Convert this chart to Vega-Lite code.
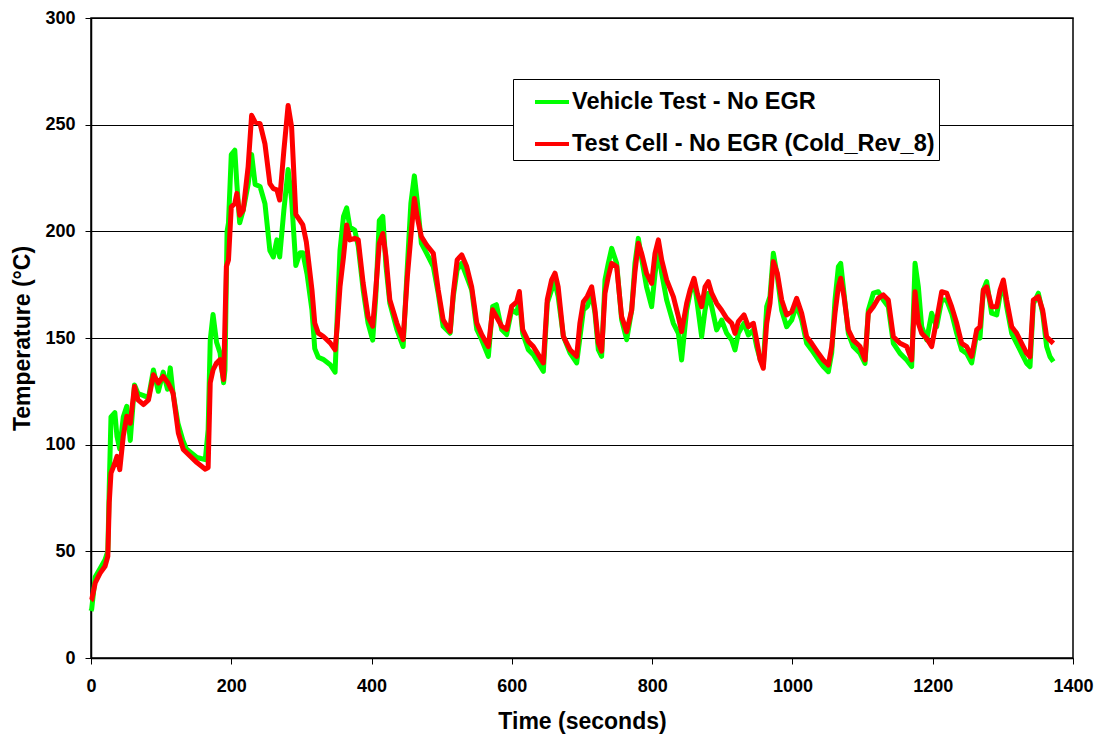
{
  "$schema": "https://vega.github.io/schema/vega-lite/v6.json",
  "width": 982,
  "height": 640,
  "autosize": {"type": "none"},
  "padding": {"left": 91, "top": 18, "right": 26, "bottom": 80},
  "background": "white",
  "config": {
    "font": "Liberation Sans",
    "view": {"stroke": "black", "strokeWidth": 1.5},
    "axis": {
      "labelFont": "Liberation Sans",
      "labelFontWeight": "bold",
      "labelFontSize": 18,
      "labelColor": "black",
      "titleFont": "Liberation Sans",
      "titleFontWeight": "bold",
      "titleFontSize": 23,
      "titleColor": "black",
      "domainColor": "black",
      "domainWidth": 1.5,
      "tickColor": "black",
      "tickSize": 6,
      "gridColor": "black",
      "gridOpacity": 1,
      "gridWidth": 1,
      "labelFlush": false,
      "labelOverlap": false
    },
    "legend": {
      "orient": "none",
      "legendX": 422,
      "legendY": 61,
      "strokeColor": "black",
      "fillColor": "white",
      "padding": 4,
      "labelFont": "Liberation Sans",
      "labelFontWeight": "bold",
      "labelFontSize": 23.5,
      "labelColor": "black",
      "symbolType": "stroke",
      "symbolStrokeWidth": 4,
      "symbolSize": 1156,
      "symbolOffset": 16,
      "rowPadding": 11,
      "labelOffset": 1,
      "labelLimit": 600
    }
  },
  "datasets": {
    "vehicle": [
      {"time":0,"temp":22},{"time":1,"temp":23},{"time":6,"temp":38},{"time":13,"temp":42},{"time":20,"temp":46},{"time":24,"temp":50},{"time":26,"temp":80},{"time":28.5,"temp":113},{"time":34,"temp":115},{"time":37,"temp":104},{"time":41,"temp":98},{"time":46,"temp":113},{"time":51,"temp":118},{"time":56,"temp":102},{"time":62,"temp":128},{"time":67,"temp":124},{"time":75,"temp":123},{"time":82,"temp":122},{"time":89,"temp":135},{"time":96,"temp":125},{"time":103,"temp":134},{"time":109,"temp":126},{"time":113,"temp":136},{"time":117,"temp":124},{"time":124,"temp":110},{"time":131,"temp":102},{"time":136,"temp":98},{"time":151,"temp":94},{"time":163,"temp":93},{"time":167,"temp":107},{"time":170,"temp":149},{"time":174,"temp":161},{"time":179,"temp":148},{"time":184,"temp":143},{"time":189,"temp":129},{"time":191,"temp":135},{"time":194,"temp":200},{"time":196,"temp":204},{"time":200,"temp":236},{"time":205,"temp":238},{"time":208,"temp":222},{"time":212,"temp":204},{"time":217,"temp":210},{"time":224,"temp":222},{"time":229,"temp":236},{"time":234,"temp":222},{"time":241,"temp":221},{"time":248,"temp":213},{"time":255,"temp":191},{"time":260,"temp":188},{"time":265,"temp":196},{"time":269,"temp":188},{"time":275,"temp":210},{"time":281,"temp":229},{"time":286,"temp":215},{"time":292,"temp":184},{"time":298,"temp":190},{"time":302,"temp":190},{"time":308,"temp":180},{"time":315,"temp":163},{"time":319,"temp":145},{"time":324,"temp":141},{"time":331,"temp":140},{"time":341,"temp":137.5},{"time":348,"temp":134},{"time":351,"temp":160},{"time":355,"temp":191},{"time":360,"temp":207},{"time":364.5,"temp":211},{"time":369,"temp":202},{"time":376,"temp":200.6},{"time":381,"temp":193},{"time":388,"temp":172.6},{"time":395,"temp":157},{"time":401.6,"temp":149},{"time":406,"temp":169.5},{"time":411,"temp":205},{"time":416,"temp":207},{"time":420.6,"temp":183.5},{"time":426,"temp":166.4},{"time":436,"temp":154},{"time":445,"temp":146},{"time":451,"temp":183.5},{"time":456,"temp":213},{"time":461,"temp":226},{"time":465,"temp":214.6},{"time":471,"temp":194.4},{"time":478.5,"temp":189.7},{"time":488,"temp":183.5},{"time":495,"temp":171},{"time":502,"temp":155.5},{"time":512,"temp":152.3},{"time":516.5,"temp":169.5},{"time":522,"temp":182},{"time":528.5,"temp":185},{"time":535.6,"temp":178.8},{"time":542.7,"temp":172.6},{"time":550,"temp":154},{"time":557,"temp":149.2},{"time":566.5,"temp":141.4},{"time":572.6,"temp":164.8},{"time":578,"temp":165.6},{"time":585.5,"temp":154},{"time":592.6,"temp":151.6},{"time":599.7,"temp":163.2},{"time":607,"temp":161.7},{"time":610.7,"temp":168},{"time":615.4,"temp":152.3},{"time":623.5,"temp":144.5},{"time":630.6,"temp":142.2},{"time":637.7,"temp":138.3},{"time":644.9,"temp":134.4},{"time":650.5,"temp":166.4},{"time":656.7,"temp":172.6},{"time":661.5,"temp":175.7},{"time":666,"temp":169.5},{"time":673.4,"temp":150.8},{"time":682.9,"temp":143},{"time":692.4,"temp":138.3},{"time":697,"temp":150},{"time":702,"temp":163.2},{"time":707.6,"temp":164.8},{"time":713.8,"temp":171},{"time":718.5,"temp":161.7},{"time":723.3,"temp":144.5},{"time":728,"temp":141.4},{"time":732.8,"temp":177.3},{"time":737.5,"temp":185},{"time":742.3,"temp":192},{"time":749.4,"temp":185},{"time":756.5,"temp":158.6},{"time":763.7,"temp":149.2},{"time":770.8,"temp":163},{"time":775.5,"temp":185},{"time":780.3,"temp":196.7},{"time":785,"temp":187.3},{"time":792,"temp":174},{"time":799.3,"temp":164.7},{"time":804.1,"temp":180},{"time":808.9,"temp":191.3},{"time":813.6,"temp":180.3},{"time":820.7,"temp":167.8},{"time":830.2,"temp":156.9},{"time":837.4,"temp":152.2},{"time":842,"temp":139.7},{"time":849.2,"temp":163},{"time":854,"temp":171},{"time":859.7,"temp":177.2},{"time":864.4,"temp":166},{"time":870.6,"temp":150.6},{"time":875.4,"temp":163},{"time":880.1,"temp":171},{"time":884.9,"temp":164.7},{"time":892,"temp":153.8},{"time":899.1,"temp":158.4},{"time":906.3,"temp":152.2},{"time":913.4,"temp":149.1},{"time":918.1,"temp":144.4},{"time":922.9,"temp":152.2},{"time":931,"temp":156.9},{"time":937.2,"temp":151.4},{"time":944.3,"temp":153.8},{"time":949,"temp":146},{"time":954,"temp":140},{"time":958.5,"temp":137},{"time":963.3,"temp":164.7},{"time":968,"temp":169.4},{"time":972.8,"temp":189.7},{"time":978.5,"temp":178.8},{"time":984.7,"temp":163},{"time":991.8,"temp":155.3},{"time":999,"temp":158.4},{"time":1006,"temp":165.5},{"time":1013.2,"temp":158.4},{"time":1020.3,"temp":147.5},{"time":1027.4,"temp":144.4},{"time":1037,"temp":139.7},{"time":1044,"temp":136.6},{"time":1051.2,"temp":134.2},{"time":1056,"temp":143},{"time":1060.7,"temp":167.8},{"time":1065.5,"temp":183.4},{"time":1068.8,"temp":185},{"time":1073.5,"temp":171},{"time":1079.7,"temp":152.2},{"time":1086.8,"temp":146},{"time":1096.4,"temp":142.8},{"time":1103.5,"temp":138.1},{"time":1108.2,"temp":163},{"time":1115.4,"temp":171},{"time":1122.5,"temp":171.7},{"time":1129.6,"temp":167.8},{"time":1136.7,"temp":164.7},{"time":1143.9,"temp":147.5},{"time":1153.4,"temp":142.8},{"time":1162.9,"temp":139.7},{"time":1170,"temp":136.6},{"time":1174.8,"temp":185},{"time":1179.5,"temp":174},{"time":1184.3,"temp":155.3},{"time":1191.4,"temp":149.1},{"time":1198.5,"temp":161.6},{"time":1205.6,"temp":155.3},{"time":1212.8,"temp":167.8},{"time":1219.9,"temp":167.8},{"time":1227,"temp":161.6},{"time":1234.2,"temp":152.2},{"time":1241.3,"temp":144.4},{"time":1248.4,"temp":142.8},{"time":1255.5,"temp":138.3},{"time":1262.7,"temp":152.2},{"time":1267.4,"temp":150},{"time":1272.2,"temp":172.5},{"time":1276.9,"temp":176.4},{"time":1284,"temp":161.6},{"time":1291.2,"temp":160.8},{"time":1296,"temp":170},{"time":1300.7,"temp":175.6},{"time":1305.4,"temp":164.7},{"time":1312.6,"temp":152.2},{"time":1319.7,"temp":147.5},{"time":1326.8,"temp":142.8},{"time":1334,"temp":138.1},{"time":1338.7,"temp":136.6},{"time":1343.4,"temp":166},{"time":1350.6,"temp":171},{"time":1356.8,"temp":161.6},{"time":1362.4,"temp":146},{"time":1367.2,"temp":141.2},{"time":1372,"temp":138.9}
    ],
    "cell": [
      {"time":0,"temp":27},{"time":1,"temp":27.3},{"time":6,"temp":35.2},{"time":13,"temp":39.8},{"time":20,"temp":43},{"time":24,"temp":47.7},{"time":26,"temp":72.7},{"time":28.5,"temp":86.7},{"time":34,"temp":91.4},{"time":37,"temp":94.5},{"time":41,"temp":88.3},{"time":46,"temp":104},{"time":51,"temp":113.3},{"time":56,"temp":110},{"time":62,"temp":127.3},{"time":67,"temp":121},{"time":75,"temp":118.8},{"time":82,"temp":121},{"time":89,"temp":132.8},{"time":96,"temp":128.9},{"time":103,"temp":132},{"time":110,"temp":128.9},{"time":117,"temp":124.2},{"time":124.5,"temp":105.5},{"time":131.6,"temp":97.7},{"time":136,"temp":96.3},{"time":151,"temp":91.6},{"time":163,"temp":88.5},{"time":167,"temp":89.3},{"time":170,"temp":129},{"time":174,"temp":135},{"time":179,"temp":138.3},{"time":184,"temp":139.9},{"time":189,"temp":130.5},{"time":193,"temp":183.5},{"time":196,"temp":186.6},{"time":200,"temp":211.5},{"time":205,"temp":213},{"time":208,"temp":217.8},{"time":212,"temp":207.6},{"time":217,"temp":210},{"time":224,"temp":230.2},{"time":229,"temp":254.4},{"time":234,"temp":251.2},{"time":241,"temp":250.5},{"time":248,"temp":241},{"time":255,"temp":222.4},{"time":260,"temp":220},{"time":265,"temp":219.4},{"time":269,"temp":214.7},{"time":275,"temp":238},{"time":281,"temp":259},{"time":286,"temp":249},{"time":292,"temp":208},{"time":298,"temp":205},{"time":302,"temp":203},{"time":307,"temp":195},{"time":315,"temp":172.6},{"time":319,"temp":157},{"time":324,"temp":152.3},{"time":331,"temp":150.8},{"time":341,"temp":147.7},{"time":348,"temp":144.5},{"time":351,"temp":155.5},{"time":355,"temp":174},{"time":360,"temp":188},{"time":364.5,"temp":203},{"time":369,"temp":196},{"time":376,"temp":196.7},{"time":381,"temp":196},{"time":388,"temp":175.7},{"time":395,"temp":160},{"time":401.6,"temp":155.5},{"time":406,"temp":172.6},{"time":411,"temp":194.4},{"time":416,"temp":199},{"time":420.6,"temp":188},{"time":426,"temp":168},{"time":436,"temp":157},{"time":445,"temp":149.2},{"time":451,"temp":178.8},{"time":456,"temp":197.5},{"time":461,"temp":215.4},{"time":465,"temp":206.9},{"time":471,"temp":197.5},{"time":478.5,"temp":193.6},{"time":488,"temp":189.7},{"time":495,"temp":172.6},{"time":502,"temp":158.6},{"time":512,"temp":153},{"time":516.5,"temp":171},{"time":522,"temp":186.6},{"time":528.5,"temp":189},{"time":535.6,"temp":183.5},{"time":542.7,"temp":174},{"time":550,"temp":157},{"time":557,"temp":151.6},{"time":566.5,"temp":146},{"time":572.6,"temp":163.2},{"time":578,"temp":160},{"time":585.5,"temp":155.5},{"time":592.6,"temp":154},{"time":599.7,"temp":164.8},{"time":607,"temp":167},{"time":610.7,"temp":171.8},{"time":615.4,"temp":154},{"time":623.5,"temp":148.4},{"time":630.6,"temp":146},{"time":637.7,"temp":142.2},{"time":644.9,"temp":138.3},{"time":650.5,"temp":168},{"time":656.7,"temp":177.3},{"time":661.5,"temp":180.4},{"time":666,"temp":174},{"time":673.4,"temp":150.8},{"time":682.9,"temp":144.5},{"time":692.4,"temp":141.4},{"time":697,"temp":157},{"time":702,"temp":167},{"time":707.6,"temp":169.5},{"time":713.8,"temp":174},{"time":718.5,"temp":163.2},{"time":723.3,"temp":147.7},{"time":728,"temp":143.8},{"time":732.8,"temp":171},{"time":737.5,"temp":178.8},{"time":742.3,"temp":185},{"time":749.4,"temp":183.5},{"time":756.5,"temp":160},{"time":763.7,"temp":153},{"time":770.8,"temp":163},{"time":775.5,"temp":181},{"time":780.3,"temp":194.4},{"time":785,"temp":189.7},{"time":792,"temp":180.3},{"time":799.3,"temp":175.6},{"time":804.1,"temp":189.7},{"time":808.9,"temp":196},{"time":813.6,"temp":186.6},{"time":820.7,"temp":177.2},{"time":830.2,"temp":169.4},{"time":837.4,"temp":160},{"time":842,"temp":153},{"time":849.2,"temp":166.2},{"time":854,"temp":172.5},{"time":859.7,"temp":178},{"time":864.4,"temp":171},{"time":870.6,"temp":164.7},{"time":875.4,"temp":174},{"time":880.1,"temp":176.4},{"time":884.9,"temp":171},{"time":892,"temp":166.2},{"time":899.1,"temp":163},{"time":906.3,"temp":159.2},{"time":913.4,"temp":156.9},{"time":918.1,"temp":152.2},{"time":922.9,"temp":157.7},{"time":931,"temp":160.8},{"time":937.2,"temp":155.3},{"time":944.3,"temp":156.9},{"time":949,"temp":149},{"time":954,"temp":139.7},{"time":958.5,"temp":135.8},{"time":963.3,"temp":156.9},{"time":968,"temp":166.2},{"time":972.8,"temp":185.8},{"time":978.5,"temp":180.3},{"time":984.7,"temp":167.8},{"time":991.8,"temp":160.8},{"time":999,"temp":162.3},{"time":1006,"temp":168.6},{"time":1013.2,"temp":161.6},{"time":1020.3,"temp":150.6},{"time":1027.4,"temp":147.5},{"time":1037,"temp":142.8},{"time":1044,"temp":139.7},{"time":1051.2,"temp":137.3},{"time":1056,"temp":145.9},{"time":1060.7,"temp":161.6},{"time":1065.5,"temp":174},{"time":1068.8,"temp":178},{"time":1073.5,"temp":169.4},{"time":1079.7,"temp":153.8},{"time":1086.8,"temp":149},{"time":1096.4,"temp":146},{"time":1103.5,"temp":139.7},{"time":1108.2,"temp":161.6},{"time":1115.4,"temp":164.7},{"time":1122.5,"temp":168.6},{"time":1129.6,"temp":170.2},{"time":1136.7,"temp":167.8},{"time":1143.9,"temp":150.6},{"time":1153.4,"temp":147.5},{"time":1162.9,"temp":146},{"time":1170,"temp":139.7},{"time":1174.8,"temp":171.7},{"time":1179.5,"temp":156.9},{"time":1184.3,"temp":152.2},{"time":1191.4,"temp":149.8},{"time":1198.5,"temp":146},{"time":1205.6,"temp":158.4},{"time":1212.8,"temp":171.7},{"time":1219.9,"temp":171},{"time":1227,"temp":164.7},{"time":1234.2,"temp":156.9},{"time":1241.3,"temp":147.5},{"time":1248.4,"temp":146},{"time":1255.5,"temp":141.4},{"time":1262.7,"temp":153.8},{"time":1267.4,"temp":155.3},{"time":1272.2,"temp":172.5},{"time":1276.9,"temp":174},{"time":1284,"temp":164.7},{"time":1291.2,"temp":164.7},{"time":1296,"temp":172.5},{"time":1300.7,"temp":177.2},{"time":1305.4,"temp":167.8},{"time":1312.6,"temp":155.3},{"time":1319.7,"temp":152.2},{"time":1326.8,"temp":147.5},{"time":1334,"temp":142.8},{"time":1338.7,"temp":141.2},{"time":1343.4,"temp":167.8},{"time":1350.6,"temp":169.4},{"time":1356.8,"temp":163},{"time":1362.4,"temp":150.6},{"time":1367.2,"temp":149},{"time":1372,"temp":147.5}
    ]
  },
  "encoding": {
    "x": {
      "field": "time", "type": "quantitative",
      "scale": {"domain": [0, 1400], "nice": false},
      "axis": {"values": [0,200,400,600,800,1000,1200,1400], "format": "d", "grid": false, "title": "Time (seconds)", "labelPadding": 13, "titlePadding": 15}
    },
    "y": {
      "field": "temp", "type": "quantitative",
      "scale": {"domain": [0, 300], "nice": false},
      "axis": {"values": [0,50,100,150,200,250,300], "grid": true, "title": "Temperature (°C)", "labelPadding": 10, "titlePadding": 10}
    }
  },
  "layer": [
    {
      "data": {"name": "vehicle"},
      "mark": {"type": "line", "strokeWidth": 5, "strokeJoin": "round"},
      "encoding": {
        "color": {
          "datum": "Vehicle Test - No EGR",
          "type": "nominal",
          "scale": {"domain": ["Vehicle Test - No EGR", "Test Cell - No EGR (Cold_Rev_8)"], "range": ["#00ff00", "#ff0000"]},
          "legend": {"title": null}
        }
      }
    },
    {
      "data": {"name": "cell"},
      "mark": {"type": "line", "strokeWidth": 5, "strokeJoin": "round"},
      "encoding": {
        "color": {"datum": "Test Cell - No EGR (Cold_Rev_8)", "type": "nominal"}
      }
    }
  ]
}
